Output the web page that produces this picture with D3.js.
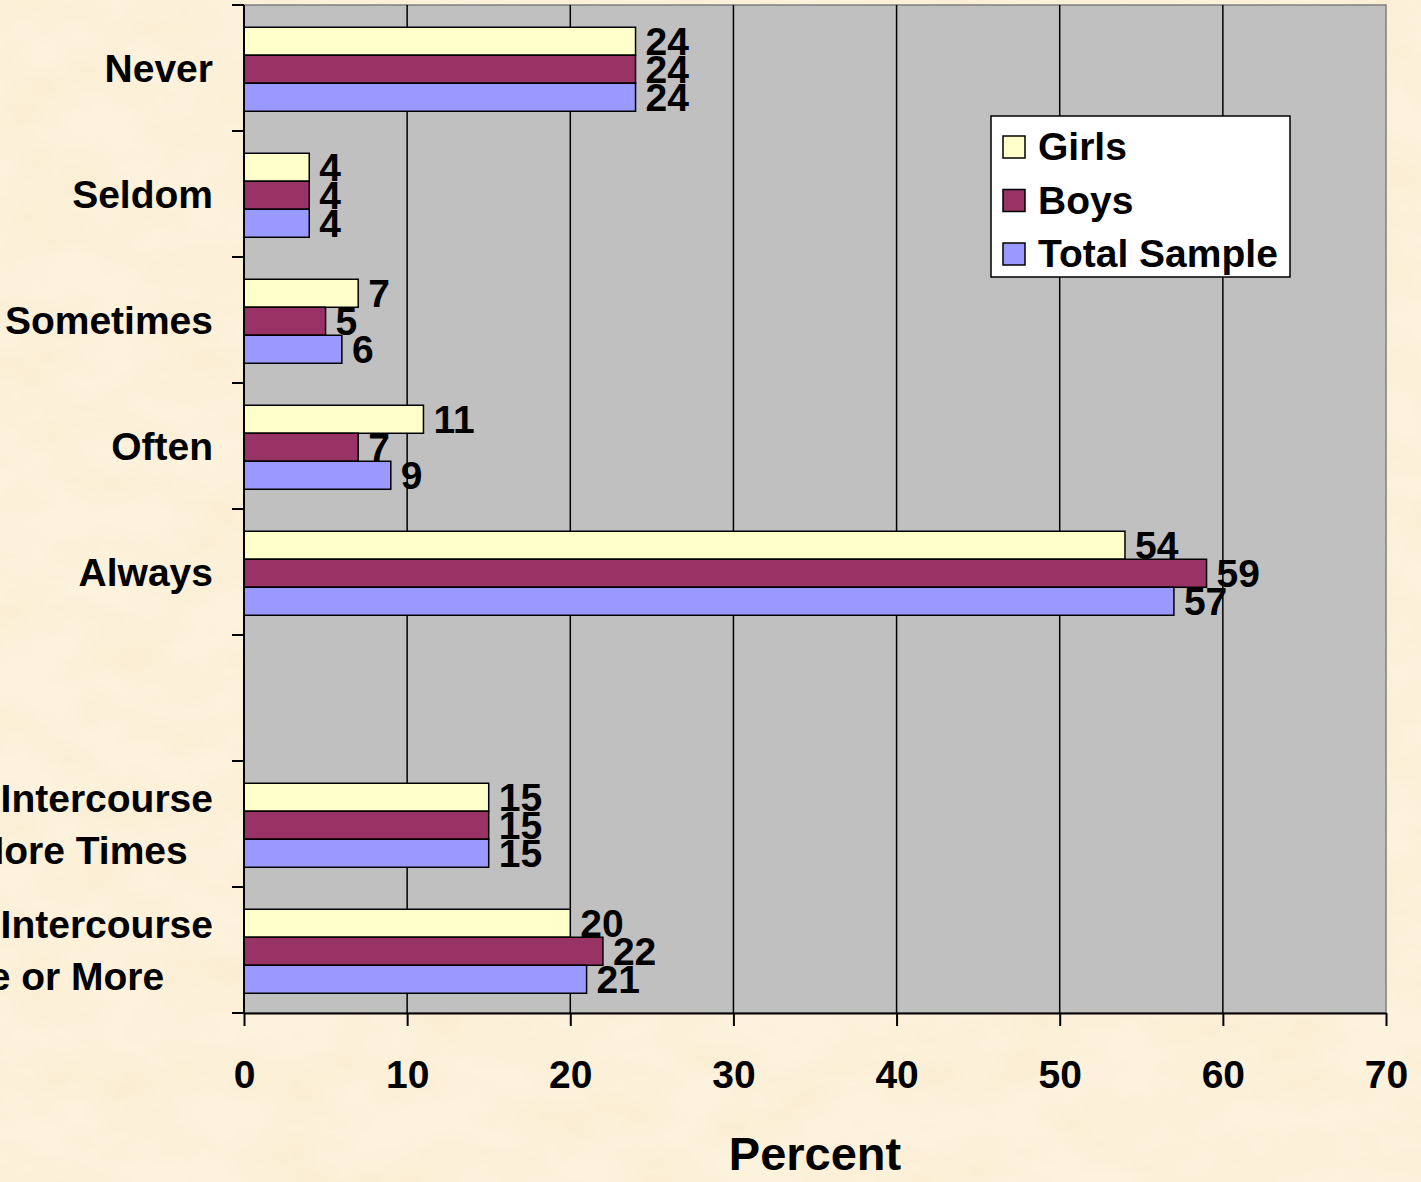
<!DOCTYPE html>
<html lang="en">
<head>
<meta charset="utf-8">
<title>Condom use</title>
<script src="https://d3js.org/d3.v7.min.js"></script>
<style>
  html, body { margin: 0; padding: 0; background: #faedd4; overflow: hidden; }
  svg { display: block; font-family: "Liberation Sans", Arial, sans-serif; font-weight: bold; }
</style>
</head>
<body>
<script>
// categories, top to bottom ("" is the empty gap row)
var categories = ["Never", "Seldom", "Sometimes", "Often", "Always", "", "cat7", "cat8"];
var categoryLines = {
  "Never": ["Never"],
  "Seldom": ["Seldom"],
  "Sometimes": ["Sometimes"],
  "Often": ["Often"],
  "Always": ["Always"],
  "": [],
  "cat7": ["Sexual Intercourse", "4 or More Times"],
  "cat8": ["Sexual Intercourse", "Once or More"]
};
var series = ["Girls", "Boys", "Total Sample"];
var girls = [24, 4, 7, 11, 54, null, 15, 20];
var boys  = [24, 4, 5, 7, 59, null, 15, 22];
var total = [24, 4, 6, 9, 57, null, 15, 21];
var xTicks = [0, 10, 20, 30, 40, 50, 60, 70];
var colors = ["#ffffcc", "#993366", "#9999ff"];

var w = 1421, h = 1182;
var plotLeft = 244, plotRight = 1386, plotTop = 5, plotBottom = 1013;
var fs = 39;

var svg = d3.select("body").append("svg").attr("width", w).attr("height", h);

// parchment background
var defs = svg.append("defs");
var f = defs.append("filter").attr("id", "paper").attr("x", 0).attr("y", 0).attr("width", "100%").attr("height", "100%");
f.append("feTurbulence").attr("type", "fractalNoise").attr("baseFrequency", "0.012 0.02").attr("numOctaves", 4).attr("seed", 7);
f.append("feColorMatrix").attr("type", "matrix")
  .attr("values", "0 0 0 0 0.93  0 0 0 0 0.80  0 0 0 0 0.58  0.8 0 0 0 -0.25");
svg.append("rect").attr("width", w).attr("height", h).attr("fill", "#fdf2dc");
svg.append("rect").attr("width", w).attr("height", h).attr("filter", "url(#paper)");

var x = d3.scaleLinear().domain([0, 70]).range([plotLeft, plotRight]);
var y = d3.scaleBand().domain(categories).range([plotTop, plotBottom]).padding(0);
var ySub = d3.scaleBand().domain(series).range([0, y.bandwidth()])
  .paddingInner(0).paddingOuter(0.75).align(0.53);

// plot area
svg.append("rect")
  .attr("x", plotLeft).attr("y", plotTop)
  .attr("width", plotRight - plotLeft).attr("height", plotBottom - plotTop)
  .attr("fill", "#c0c0c0").attr("stroke", "#808080").attr("stroke-width", 1.5);

// gridlines
svg.selectAll("line.grid")
  .data(xTicks.filter(function(d) { return d > 0 && d < 70; }))
  .enter().append("line")
  .attr("class", "grid")
  .attr("x1", function(d) { return x(d); }).attr("x2", function(d) { return x(d); })
  .attr("y1", plotTop).attr("y2", plotBottom)
  .attr("stroke", "#000").attr("stroke-width", 1.5);

// bars
var rows = [];
categories.forEach(function(c, i) {
  [girls, boys, total].forEach(function(arr, s) {
    if (arr[i] != null) rows.push({ cat: c, s: s, v: arr[i] });
  });
});

svg.selectAll("rect.bar")
  .data(rows)
  .enter().append("rect")
  .attr("class", "bar")
  .attr("x", x(0))
  .attr("y", function(d) { return y(d.cat) + ySub(series[d.s]); })
  .attr("width", function(d) { return x(d.v) - x(0); })
  .attr("height", ySub.bandwidth())
  .attr("fill", function(d) { return colors[d.s]; })
  .attr("stroke", "#000").attr("stroke-width", 1.5);

svg.selectAll("text.val")
  .data(rows)
  .enter().append("text")
  .attr("class", "val")
  .attr("x", function(d) { return x(d.v) + 10; })
  .attr("y", function(d) { return y(d.cat) + ySub(series[d.s]) + ySub.bandwidth() / 2 + 14; })
  .attr("font-size", fs)
  .text(function(d) { return d.v; });

// x axis
var xAxis = d3.axisBottom(x).tickValues(xTicks).tickSize(13).tickSizeOuter(0).tickPadding(34);
var gx = svg.append("g").attr("transform", "translate(0," + plotBottom + ")").call(xAxis);
gx.select(".domain").attr("stroke", "#000").attr("stroke-width", 2);
gx.selectAll(".tick line").attr("stroke", "#000").attr("stroke-width", 2);
gx.selectAll(".tick text").attr("font-size", fs).attr("font-family", "Liberation Sans, Arial, sans-serif")
  .attr("font-weight", "bold").attr("fill", "#000");

// y axis: line and ticks at band boundaries
svg.append("line").attr("x1", plotLeft).attr("x2", plotLeft).attr("y1", plotTop).attr("y2", plotBottom)
  .attr("stroke", "#000").attr("stroke-width", 2);
var bounds = categories.map(function(c) { return y(c); }).concat([plotBottom]);
svg.selectAll("line.ytick")
  .data(bounds)
  .enter().append("line")
  .attr("class", "ytick")
  .attr("x1", plotLeft - 12).attr("x2", plotLeft)
  .attr("y1", function(d) { return d; }).attr("y2", function(d) { return d; })
  .attr("stroke", "#000").attr("stroke-width", 2);

// category labels (lines centred on each other, block right-aligned)
var labelRight = 213, lineGap = 52;
categories.forEach(function(c) {
  var lines = categoryLines[c];
  if (!lines.length) return;
  var g = svg.append("g");
  var cy = y(c) + y.bandwidth() / 2;
  var texts = lines.map(function(t, i) {
    return g.append("text")
      .attr("font-size", fs)
      .attr("text-anchor", "middle")
      .attr("y", cy - (lines.length - 1) * lineGap / 2 + i * lineGap + 14)
      .text(t);
  });
  var maxW = d3.max(texts, function(t) { return t.node().getComputedTextLength(); });
  texts.forEach(function(t) { t.attr("x", labelRight - maxW / 2); });
});

// axis title
svg.append("text")
  .attr("x", (plotLeft + plotRight) / 2).attr("y", 1170)
  .attr("text-anchor", "middle").attr("font-size", 47)
  .text("Percent");

// legend
var lg = svg.append("g").attr("transform", "translate(991,116)");
lg.append("rect").attr("width", 299).attr("height", 161)
  .attr("fill", "#fff").attr("stroke", "#000").attr("stroke-width", 1.5);
series.forEach(function(s, i) {
  var cy = 31 + i * 53.5;
  lg.append("rect").attr("x", 12).attr("y", cy - 11).attr("width", 22).attr("height", 22)
    .attr("fill", colors[i]).attr("stroke", "#000").attr("stroke-width", 1.5);
  lg.append("text").attr("x", 47).attr("y", cy + 13).attr("font-size", fs).text(s);
});
</script>
</body>
</html>
